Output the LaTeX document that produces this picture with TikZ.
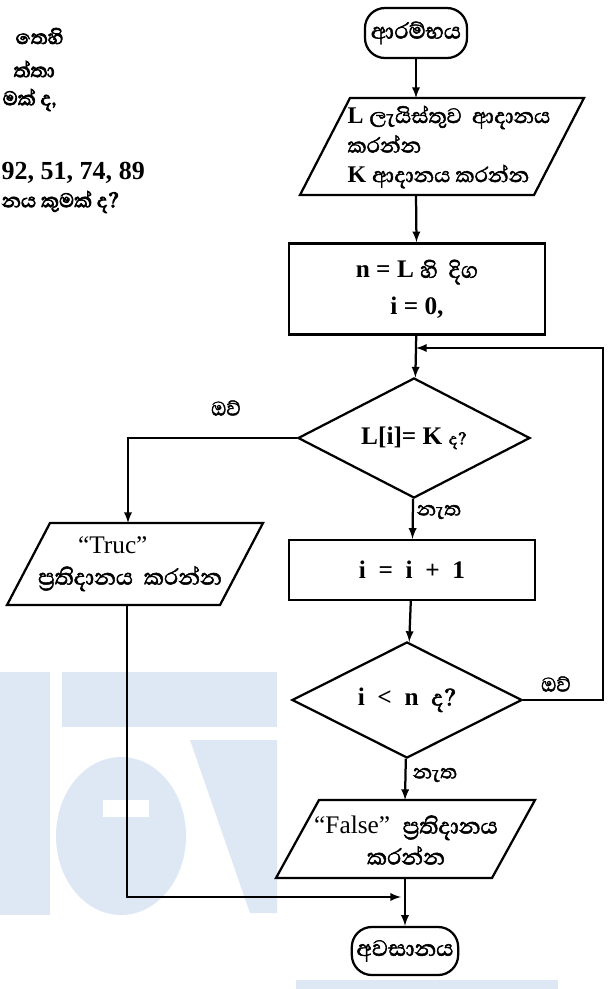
\documentclass[tikz,border=0pt]{standalone}
\usepackage{fontspec}
\setmainfont{Liberation Serif}
\newfontfamily\sinfont[Script=Sinhala, Scale=1.12, FakeBold=1.8]{Abhaya Libre}
\newfontfamily\sinbold[Script=Sinhala, Scale=1.12, FakeBold=3]{Abhaya Libre}
\usetikzlibrary{shapes.geometric}
\definecolor{wmblue}{RGB}{222,232,245}

\begin{document}
\begin{tikzpicture}[x=0.025cm, y=-0.025cm,
  every node/.style={font=\fontsize{18}{22}\selectfont},
  line/.style={line width=1.6pt},
  arr/.style={line width=1.6pt, -latex},
  term/.style={draw, line width=1.6pt, rounded corners=0.5cm},
  proc/.style={draw, line width=1.6pt, font=\bfseries\fontsize{18}{26}\selectfont},
  dec/.style={draw, line width=1.6pt, diamond, aspect=2, inner sep=0pt, font=\bfseries\fontsize{18}{22}\selectfont},
  lbl/.style={font=\sinfont\fontsize{16}{18}\selectfont},
  frag/.style={anchor=west, inner sep=1pt, font=\sinbold\fontsize{16}{20}\selectfont}]
\useasboundingbox (0,0) rectangle (611,989);
%
% watermark
\fill [wmblue] (0,672) rectangle (50,915);
\fill [wmblue] (62,672) rectangle (277,727);
\fill [wmblue] (121,836) ellipse [x radius=65, y radius=79];
\fill [white] (103,800) rectangle (149,817);
\fill [wmblue] (190,740) -- (277,740) -- (277,913) -- (250,913) -- cycle;
\fill [wmblue] (296,980) rectangle (558,989);
%
% question text, cut off at the left
\node [frag] (q1) at (14,36) {තෙහි};
\node [frag] (q2) at (12,69) {ත්තා};
\node [frag] (q3) at (1,100) {මක් ද,};
\node [anchor=west, inner sep=1pt, font=\bfseries\fontsize{18.5}{22}\selectfont] (q4) at (0,173) {92, 51, 74, 89};
\node [frag] (q5) at (0,202) {නය කුමක් ද?};
%
% flowchart
\node [term, minimum width=2.55cm, minimum height=1.25cm] (start) at (416,33) {\sinfont ආරම්භය};
\draw [line] (350,98) -- (584,98) -- (534,195) -- (300,195) -- cycle;
\node [align=left, font=\fontsize{17}{21}\selectfont] (in) at (449,147) {\textbf{L} {\sinfont ලැයිස්තුව~ ආදානය}\\ {\sinfont කරන්න}\\ \textbf{K} {\sinfont ආදානය කරන්න}};
\node [proc, minimum width=6.38cm, minimum height=2.28cm, align=center] (len) at (417,289) {n = L {\sinfont\mdseries හි~ දිග}\\ i = 0,};
\node [dec, minimum width=5.8cm, minimum height=3cm] (d1) at (414,438) {L[i]= K~{\sinfont\mdseries\fontsize{13}{15}\selectfont ද?}};
\node [proc, minimum width=6.13cm, minimum height=1.5cm] (inc) at (412,570) {i~~=~~i~~+~~1};
\node [dec, minimum width=5.75cm, minimum height=2.9cm] (d2) at (407,700) {i~~<~~n~~{\sinfont\mdseries ද?}};
\draw [line] (50,523) -- (263,523) -- (220,605) -- (7,605) -- cycle;
\node [align=left] (truc) at (130,564) {\hspace*{1cm}“Truc”\\ {\sinfont ප්^^^^200dරතිදානය~ කරන්න}};
\draw [line] (319,800) -- (535,800) -- (492,878) -- (276,878) -- cycle;
\node [align=center] (false) at (406,840) {“False”~ {\sinfont ප්^^^^200dරතිදානය}\\ {\sinfont කරන්න}};
\node [term, minimum width=2.63cm, minimum height=1.2cm] (stop) at (405,951) {\sinfont අවසානය};
%
\node [lbl] (yes1) at (226,408) {ඔව්};
\node [lbl] (no1) at (439,512) {නැත};
\node [lbl] (yes2) at (556,684) {ඔව්};
\node [lbl] (no2) at (435,775) {නැත};
%
\coordinate (in-n) at (416,98);
\coordinate (in-s) at (416,195);
\coordinate (join) at (416,348);
\coordinate (yes1a) at (128,438);
\coordinate (true-n) at (128,523);
\coordinate (true-s) at (127,605);
\coordinate (back) at (127,897);
\coordinate (merge) at (401,897);
\coordinate (loop-b) at (603,700);
\coordinate (loop-t) at (603,348);
\coordinate (false-n) at (405,800);
\coordinate (false-s) at (405,878);
%
\draw [arr] (start) -- (in-n);
\draw [arr] (in-s) -- (len);
\draw [line] (len) -- (join);
\draw [arr] (join) -- (d1);
\draw [arr] (d1.west) -- (yes1a) -- (true-n);
\draw [arr] (d1) -- (inc);
\draw [arr] (inc) -- (d2);
\draw [arr] (d2.east) -- (loop-b) -- (loop-t) -- (join);
\draw [arr] (d2) -- (false-n);
\draw [arr] (false-s) -- (stop);
\draw [arr] (true-s) -- (back) -- (merge);
%
\end{tikzpicture}
\end{document}
